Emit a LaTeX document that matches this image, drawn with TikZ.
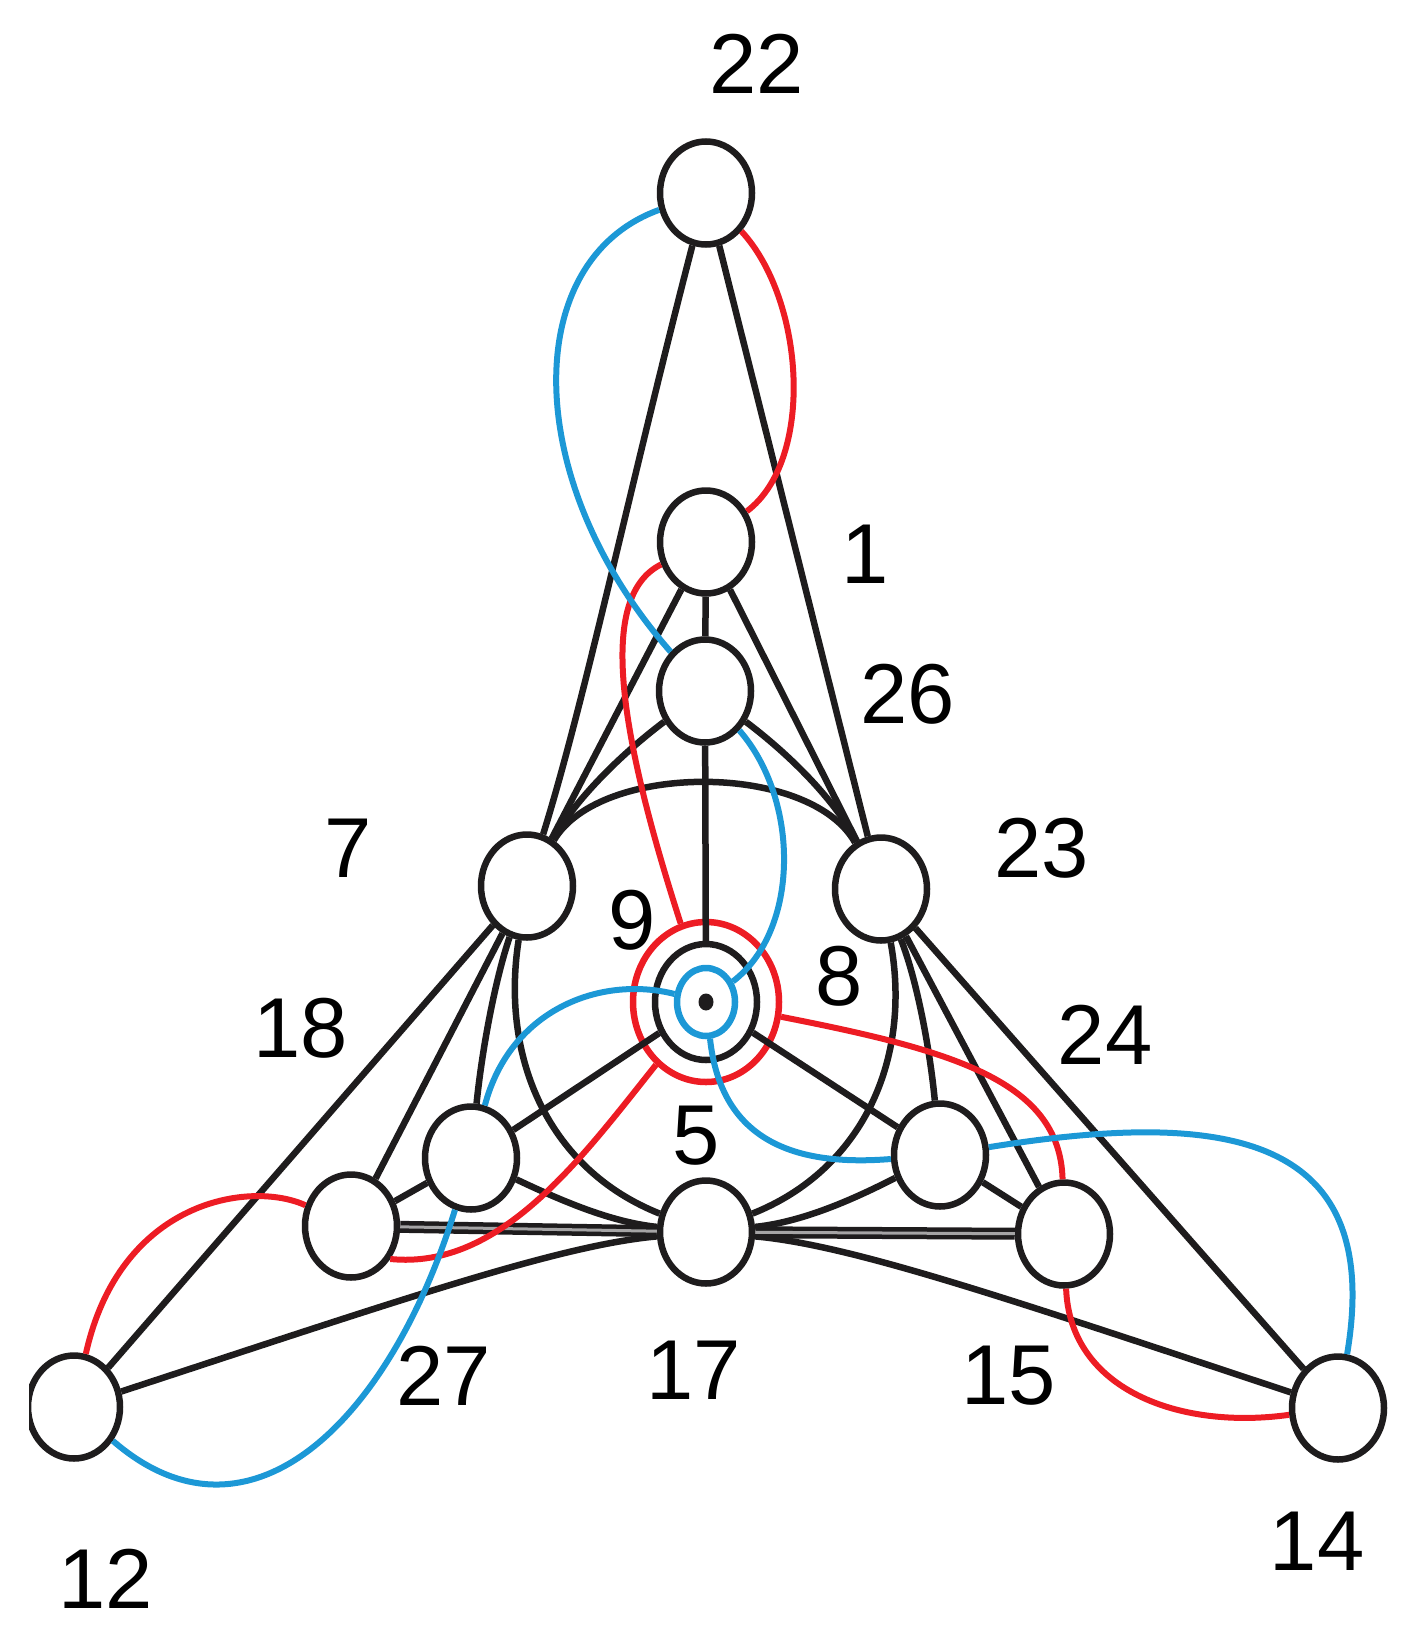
\documentclass[tikz,border=0pt]{standalone}
\usepackage{fontspec}
\setmainfont{Liberation Sans}
\usetikzlibrary{shapes.geometric}
\definecolor{ink}{RGB}{30,28,29}
\definecolor{cred}{RGB}{237,28,36}
\definecolor{cblue}{RGB}{28,152,214}
\begin{document}
\begin{tikzpicture}[x=1pt,y=-1pt,
  vtx/.style={ellipse, draw=ink, line width=6.5pt, fill=white, minimum width=92pt, minimum height=103pt, inner sep=0pt},
  ring/.style={ellipse, line width=6.5pt, inner sep=0pt},
  blk/.style={draw=ink, line width=6.5pt},
  dbl/.style={draw=ink, line width=4.5pt, double=ink!40, double distance=3pt},
  rededge/.style={draw=cred, line width=6pt},
  blueedge/.style={draw=cblue, line width=6pt},
  lab/.style={font=\fontsize{85}{90}\selectfont, inner sep=0pt, text=black}]
\useasboundingbox (0,0) rectangle (1425,1633);
% vertices
\node[vtx] (vA) at (706,193) {};
\node[vtx] (vB) at (706,542) {};
\node[vtx] (vC) at (705,691) {};
\node[vtx] (vD) at (527,886) {};
\node[vtx] (vE) at (881,889) {};
\node[vtx] (vG) at (471,1158) {};
\node[vtx] (vH) at (351,1226) {};
\node[vtx] (vI) at (706,1232) {};
\node[vtx] (vJ) at (940,1155) {};
\node[vtx] (vK) at (1064,1234) {};
\node[vtx] (vL) at (74,1407) {};
\node[vtx] (vM) at (1338,1408) {};
\node[ring, draw=cred, minimum width=146pt, minimum height=160pt] (Fr) at (706,1002) {};
\node[ring, draw=ink, minimum width=102pt, minimum height=116pt] (Fk) at (706,1002) {};
\node[ring, draw=cblue, minimum width=58pt, minimum height=68pt] (Fb) at (706,1002) {};
\node[ellipse, fill=ink, minimum width=15pt, minimum height=17pt, inner sep=0pt] (Fd) at (706,1002) {};
% black edges
\draw[blk] (vA) .. controls (629,490) and (585,700) .. (vD);
\draw[blk] (vA) -- (vE);
\draw[blk] (vB) -- (vC);
\draw[blk] (vB) -- (vD);
\draw[blk] (vB) -- (vE);
\draw[blk] (vC) .. controls (620,755) and (575,800) .. (vD);
\draw[blk] (vC) .. controls (790,755) and (835,800) .. (vE);
\draw[blk] (vD) .. controls (600,762) and (810,762) .. (vE);
\draw[blk] (vC) -- (Fk);
\draw[blk] (vD) -- (vL);
\draw[blk] (vD) -- (vH);
\draw[blk] (vD) .. controls (495,980) and (482,1050) .. (vG);
\draw[blk] (vD) .. controls (500,1060) and (550,1170) .. (vI);
\draw[blk] (vE) .. controls (912,1060) and (862,1170) .. (vI);
\draw[blk] (vE) .. controls (917,980) and (930,1050) .. (vJ);
\draw[blk] (vE) -- (vK);
\draw[blk] (vE) -- (vM);
\draw[blk] (Fk) -- (vG);
\draw[blk] (Fk) -- (vJ);
\draw[blk] (vG) -- (vH);
\draw[blk] (vJ) -- (vK);
\draw[blk] (vG) .. controls (560,1200) and (610,1222) .. (vI);
\draw[blk] (vJ) .. controls (852,1200) and (802,1222) .. (vI);
\draw[blk] (vL) .. controls (400,1300) and (560,1245) .. (vI);
\draw[blk] (vM) .. controls (1012,1300) and (852,1245) .. (vI);
\draw[dbl] (vH) -- (vI);
\draw[dbl] (vI) -- (vK);
% red edges
\draw[rededge] (vA) .. controls (805,300) and (815,460) .. (vB);
\draw[rededge] (vB) .. controls (600,595) and (615,720) .. (Fr);
\draw[rededge] (Fr) .. controls (580,1160) and (500,1270) .. (vH.-40);
\draw[rededge] (vH) .. controls (250,1180) and (120,1200) .. (vL);
\draw[rededge] (Fr) .. controls (950,1050) and (1060,1080) .. (vK);
\draw[rededge] (vK) .. controls (1070,1390) and (1180,1430) .. (vM);
% blue edges
\draw[blueedge] (vA) .. controls (520,260) and (520,480) .. (vC);
\draw[blueedge] (vC) .. controls (800,800) and (800,930) .. (Fb);
\draw[blueedge] (Fb) .. controls (600,975) and (510,1010) .. (vG);
\draw[blueedge] (vG) .. controls (390,1420) and (250,1560) .. (vL);
\draw[blueedge] (Fb) .. controls (720,1130) and (780,1168) .. (vJ);
\draw[blueedge] (vJ) .. controls (1220,1110) and (1385,1130) .. (vM);
% labels
\node[lab] (t22) at (757,64) {22};
\node[lab] (t1) at (865,554) {1};
\node[lab] (t26) at (908,694) {26};
\node[lab] (t7) at (348,848) {7};
\node[lab] (t23) at (1042,848) {23};
\node[lab] (t9) at (632,920) {9};
\node[lab] (t8) at (839,976) {8};
\node[lab] (t18) at (301,1028) {18};
\node[lab] (t24) at (1105,1035) {24};
\node[lab] (t5) at (696,1136) {5};
\node[lab] (t27) at (444,1376) {27};
\node[lab] (t17) at (694,1370) {17};
\node[lab] (t15) at (1009,1376) {15};
\node[lab] (t14) at (1317,1541) {14};
\node[lab] (t12) at (106,1579) {12};
% the reference is cropped at its left edge
\fill[white] (0,0) rectangle (29,1633);
\end{tikzpicture}
\end{document}
